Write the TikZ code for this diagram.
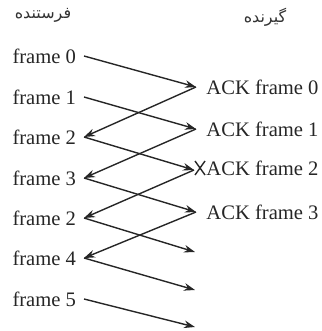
\documentclass[tikz,border=0pt]{standalone}
\usepackage{fontspec}
\setmainfont{Liberation Serif}
\newfontfamily\arabicfont[Script=Arabic]{DejaVu Sans}
\TeXXeTstate=1
\usetikzlibrary{arrows.meta}
\begin{document}
\begin{tikzpicture}[x=0.5pt,y=-0.5pt,
  lbl/.style={font=\fontsize{10.3}{12}\selectfont, inner sep=0pt, text=black!85},
  left lbl/.style={lbl, anchor=east, outer sep=4pt},
  ack lbl/.style={lbl, anchor=west},
  head/.style={font=\arabicfont\fontsize{8}{10}\selectfont, inner sep=0pt, text=black!80},
  msg/.style={line width=0.7pt, black!85},
  arr/.style={msg, -{Stealth[length=5.5pt,width=3.8pt]}}]
\useasboundingbox (0,0) rectangle (321,331);
% headers
\node[head] (hs) at (43,15) {\beginR فرستنده\endR};
\node[head] (hr) at (265,17) {\beginR گیرنده\endR};
% sender rows
\node[left lbl] (L0) at (84,56)  {frame 0};
\node[left lbl] (L1) at (84,97)  {frame 1};
\node[left lbl] (L2) at (84,137) {frame 2};
\node[left lbl] (L3) at (84,178) {frame 3};
\node[left lbl] (L4) at (84,218) {frame 2};
\node[left lbl] (L5) at (84,258) {frame 4};
\node[left lbl] (L6) at (84,299) {frame 5};
% receiver points
\coordinate (r0) at (196,87);
\coordinate (r1) at (196,129);
\coordinate (r2) at (194,170);
\coordinate (r3) at (196,212);
\coordinate (r4) at (195,252);
\coordinate (r5) at (195,290);
\coordinate (r6) at (195,327);
% ack labels
\node[ack lbl] (A0) at (206,87)  {ACK frame 0};
\node[ack lbl] (A1) at (206,129) {ACK frame 1};
\node[ack lbl] (A2) at (206,168) {ACK frame 2};
\node[ack lbl] (A3) at (206,212) {ACK frame 3};
% frames sent
\draw[arr] (L0.east) -- (r0);
\draw[arr] (L1.east) -- (r1);
\draw[arr] (L2.east) -- (r2);
\draw[arr] (L3.east) -- (r3);
\draw[arr] (L4.east) -- (r4);
\draw[arr] (L5.east) -- (r5);
\draw[arr] (L6.east) -- (r6);
% acks returned
\draw[arr] (r0) -- (L2.east);
\draw[arr] (r1) -- (L3.east);
\draw[arr] (r2) -- (L4.east);
\draw[arr] (r3) -- (L5.east);
% lost mark
\draw[line width=0.7pt, black!85] (195,161) -- (205,175) (205,161) -- (195,175);
\end{tikzpicture}
\end{document}
